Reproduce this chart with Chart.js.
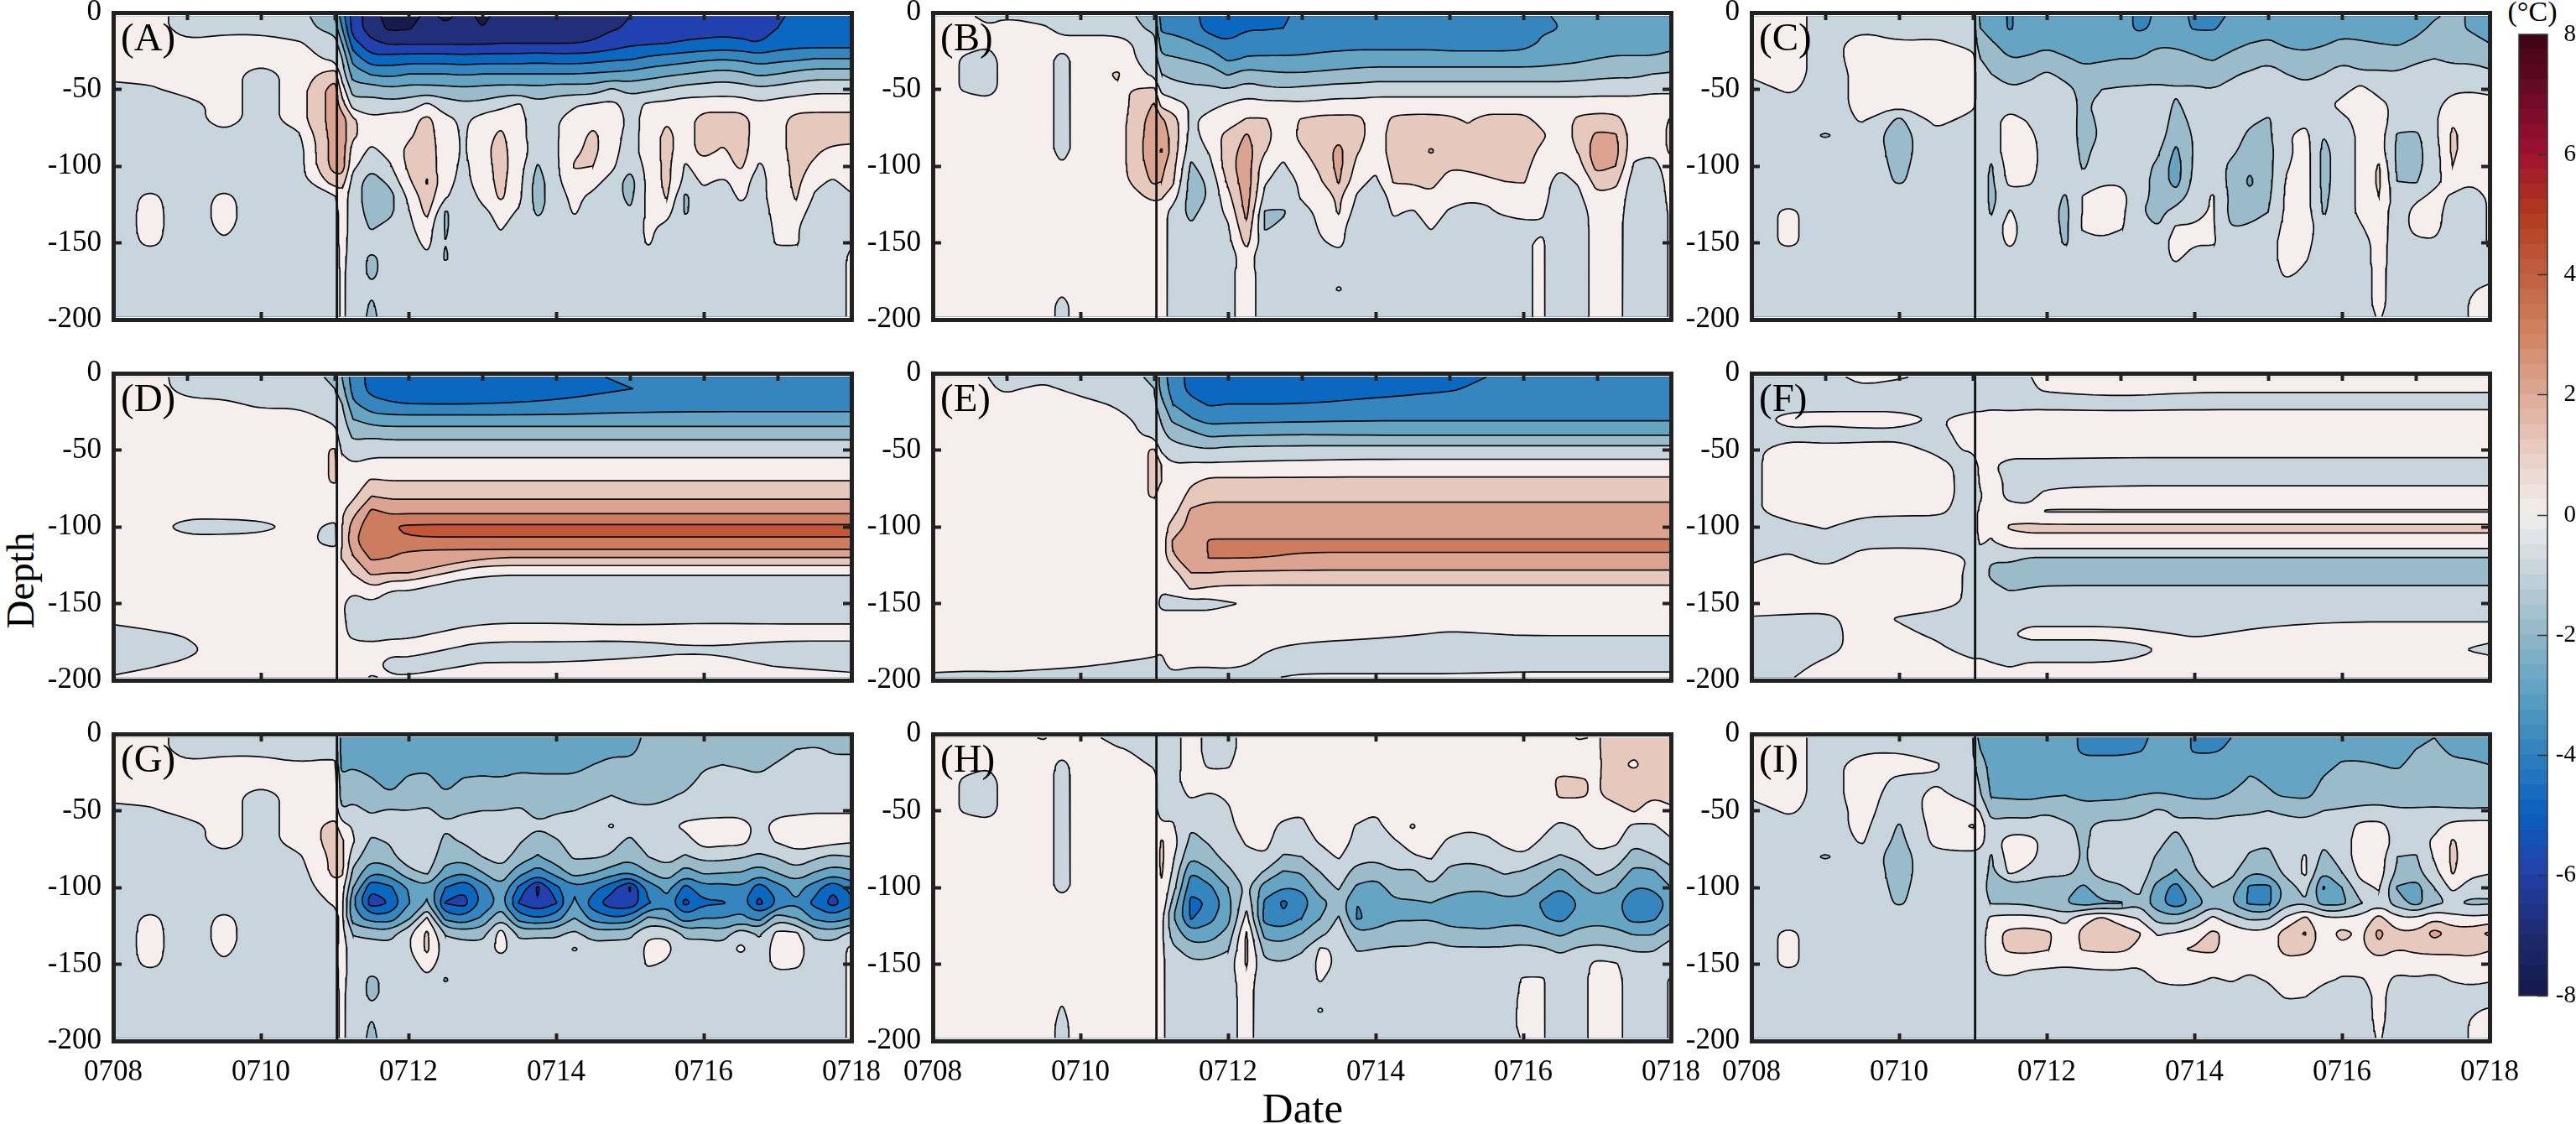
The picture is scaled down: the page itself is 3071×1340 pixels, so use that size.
<!DOCTYPE html>
<html><head><meta charset="utf-8">
<script src="https://cdn.jsdelivr.net/npm/chart.js@4"></script>
<style>
html,body{margin:0;background:#fff;width:3071px;height:1340px;overflow:hidden;font-family:"Liberation Serif",serif;color:#000}
canvas{position:absolute}
.t{position:absolute;white-space:nowrap;transform:translate(-50%,-50%)}
</style></head><body>
<div class="t" style="left:1553px;top:1321px;font-size:51px">Date</div>
<div class="t" style="left:24px;top:692px;font-size:47px;transform:translate(-50%,-50%) rotate(-90deg)">Depth</div>
<div class="t" style="left:3019px;top:14px;font-size:34px">(°C)</div>
<script>
const depths=[-2.5,-10,-20,-30,-40,-50,-60,-70,-80,-90,-100,-110,-120,-130,-140,-150,-160,-170,-180,-190,-198];
const dateTicks=['0708','0710','0712','0714','0716','0718'];
const depthTicks=[0,-50,-100,-150,-200];
const levels=[-7,-6,-5,-4,-3,-2,-1,0,1,2,3,4,5,6,7];
const bandColors={'-8':'#151b4d','-7':'#212f7a','-6':'#2241b0','-5':'#0a68c0','-4':'#3585be','-3':'#65a4c3','-2':'#9abbc9','-1':'#c9d5dd','0':'#f5eeec','1':'#e6c8bd','2':'#dba390','3':'#cd7c5f','4':'#c45535','5':'#b03a20','6':'#9e0f2c','7':'#6a0822'};
const cbarStops=['#14194a','#1d2a6e','#2340a8','#0a5fbe','#2f80bd','#5ca0c2','#92b8c8','#c3d2da','#f2efed','#e9cfc5','#dda996','#d0835f','#c0603f','#b13a1e','#a01030','#6a0a28','#3c0314'];
const fineDays=[3.1,3.25,3.5,3.75,4,4.25,4.5,4.75,5,5.25,5.5,5.75,6,6.25,6.5,6.75,7,7.25,7.5,7.75,8,8.25,8.5,8.75,9,9.25,9.5,9.75,10];
const stormDay=3.03;

// Every inner list is one time step, top to bottom; a short list repeats its last value down to -200.
const daysAG=[0,.5,1,1.5,2,2.5,3,...fineDays];
const preAG=[
[.5,.5,.5,.5,.5,-.5],
[.5,.5,.5,.5,.5,-.2,-.5,-.5,-.5,-.5,-.5,-.5,.2,.3,.3,.2,-.5],
[-.5,-.5,.2,.5,.5,.5,-.5],
[-.5,-.4,.5,.5,.5,.5,.5,.5,-.3,-.5,-.5,-.5,.2,.3,.2,-.1,-.5],
[-.5,-.4,.5,.5,-.5],
[-.5,-.5,.1,.5,.5,.5,.5,.5,-.2,-.5]];
const panelA=[...preAG,
[-2,-1.5,-.5,-.3,1.5,2.5,2.5,2.5,2.5,2.5,2.5,1.5,-.1,-.5],
[-3.5,-3,-2,-1,-.5,.5,1.5,2.5,2.5,2.5,2.5,1.5,.5,.5,.5,.4,.3,.2],
[-5.5,-5.5,-4.6,-3.4,-2.5,-1.5,-.5,1.2,1.2,.5,.2,-.4,-.5],
[-6.5,-6.5,-5.8,-4.7,-3.1,-1.5,-.5,.2,.4,-.2,-.7,-1.6,-1.6,-1.4,-1.1,-.5,-1.2,-1.2,-.8,-1.1,-1.2],
[-7.5,-7.2,-6.1,-4.6,-3.3,-1.8,-.6,.5,.3,.3,-.1,-.7,-1.4,-1.2,-.7,-.5,-.6,-.6,-.5],
[-7.5,-7.1,-6.1,-4.5,-3,-1.6,-.5,.6,.8,1.3,1.2,.8,.2,-.1,-.2,-.5],
[-6.7,-6.6,-6.1,-4.5,-3,-1.6,.2,1.3,1.5,1.6,1.6,2.1,1.6,1.3,.5,.3,-.2,-.5],
[-7.2,-6.8,-6.1,-4.5,-3,-1.7,-.5,.3,.3,.4,.4,.3,.1,-1.1,-1.1,-1,-1.1,-.5],
[-6.7,-6.6,-6.1,-4.6,-3.1,-1.8,-.8,-.2,-.1,-.1,-.2,-.3,-.5],
[-7.2,-7,-6.1,-4.5,-3,-1.7,-.7,.5,.6,.7,.5,.5,.2,-.2,-.5],
[-6.7,-6.6,-6,-4.5,-3,-1.6,-.3,.7,1.2,1.4,1.4,1.3,1.2,.3,.1,-.4,-.5],
[-6.7,-6.6,-6,-4.5,-3,-1.6,.1,.3,.3,.3,.4,.3,.2,-.1,-.5],
[-6.7,-6.6,-6,-4.4,-3,-1.7,-.7,-.5,-.5,-.3,-1.1,-1.5,-1.5,-1.2,-.5],
[-6.7,-6.6,-6,-4.5,-3,-1.5,-.4,-.1,-.1,-.1,-.2,-.2,-.3,-.5],
[-6.6,-6.5,-6,-4.5,-3,-1.5,-.1,.5,.6,.8,1.1,.6,.2,.1,-.5],
[-6.5,-6.4,-5.9,-4.4,-2.9,-1.5,.1,.7,1.2,1.3,1,.3,-.2,-.5],
[-6.2,-6.1,-5.6,-4.2,-2.8,-.9,.3,.8,.5,.3,.2,-.3,-.5],
[-6,-5.9,-5.2,-4.1,-2.7,-1.3,-.4,-.3,-.4,-.4,-.7,-1.5,-1.3,-.9,-.5],
[-5.6,-6,-5.1,-3.8,-2.4,-1.2,.2,.3,.4,.5,.3,.3,.3,.2,.2,.1,-.5],
[-5.5,-5.4,-5,-3.6,-2.2,-.9,.3,.9,1.3,1.3,1.3,1.3,1.1,.4,-.3,-.5],
[-5.5,-5.4,-4.9,-3.4,-2,-.6,.5,.5,.5,.4,-.1,-.3,-1.2,-1.1,-.5],
[-5.5,-5.4,-4.8,-3.2,-1.8,-.5,.5,1.5,1.5,1.5,.4,.1,-.2,-.5],
[-5.5,-5.4,-4.7,-3.1,-1.6,-.4,.5,1.5,1.5,.8,.5,-.1,-.3,-.5],
[-5.5,-5.4,-4.8,-3.2,-1.8,-.5,.5,1.5,1.5,1.5,1.2,.2,.1,-.2,-.5],
[-5.5,-5.4,-5,-3.5,-2.2,-.8,.2,.5,.4,.3,-.1,-.2,-.2,-.4,-.5],
[-5.2,-5,-4.6,-3.3,-2,-.6,.4,.6,.6,.5,.3,.3,.3,.3,.2,.1,-.5],
[-4.7,-4.5,-4.4,-3.2,-1.7,-.4,.5,1.4,1.5,1.5,1.4,1.3,1.1,.6,.1,.1,-.5],
[-4.5,-4.5,-4.4,-3,-1.5,-.2,.5,1.5,1.5,1.2,.8,.2,-.1,-.5],
[-4.5,-4.5,-4.4,-3,-1.5,-.2,.5,1.5,1.6,.7,.5,-.1,-.5],
[-4.5,-4.5,-4.4,-3,-1.5,-.2,.5,1.5,1.5,.6,.4,.3,-.1,-.5,-.5,-.1,.2]];
const panelG=[...preAG,
[-.3,-.3,.2,.5,.5,.6,1.3,1.3,1.3,1.3,.6,.1,-.3],
[-2.5,-2.5,-2.4,-1.7,-1.6,-.9,.4,1.2,1.2,1.2,.4,.2,.2,.3,.4,.4,.3,.2],
[-2.5,-2.5,-2.1,-1.6,-1.2,-.8,-.1,.1,-.6,-1.2,-2,-3,-2.6,-1.1,-.5],
[-2.5,-2.5,-2.5,-1.9,-1.5,-1.1,-.6,-1.2,-1.6,-2.9,-4.8,-5.6,-3.5,-1.3,-.5,-.5,-1.2,-1.2,-.8,-1.1,-1.2],
[-2.6,-2.6,-2.6,-2.5,-1.9,-.9,-.5,-.9,-1.3,-2.5,-4.2,-5,-3.5,-1.5,-.5,-.5,-.7,-.7,-.5],
[-2.6,-2.6,-2.4,-1.8,-1.4,-1,-.5,-.4,-.4,-1.3,-2.9,-3.1,-2.2,-.2,-.1,-.5],
[-2.6,-2.6,-2.3,-1.7,-1.3,-.9,-.5,-.4,-.4,-.8,-2.2,-1.9,.1,1.2,1.2,.5,-.2,-.5],
[-2.6,-2.6,-2.6,-2.4,-1.9,-1.2,-.9,-1.2,-1.6,-2.4,-4,-5.1,-3.3,-1.1,-.5,-.5,-1.1,-.5],
[-2.6,-2.6,-2.5,-1.9,-1.5,-1.1,-.6,-.9,-1.6,-2.9,-4.8,-5.4,-3.8,-1.4,-.5],
[-2.6,-2.6,-2.5,-1.8,-1.4,-1,-.5,-.6,-1,-2,-3.5,-3.8,-2.8,-1.4,-.5],
[-2.6,-2.6,-2.5,-1.9,-1.5,-1,-.5,-.5,-.6,-1.3,-2.2,-2.7,-1.1,.4,.3,-.5],
[-2.6,-2.6,-2.3,-1.7,-1.3,-.9,-.6,-.9,-1.4,-2.6,-4.2,-5.1,-3.5,-1.3,-.5],
[-2.6,-2.6,-2.3,-1.8,-1.5,-1.2,-.9,-1.55,-2.1,-3.5,-6.2,-5.9,-4,-1.2,-.5],
[-2.6,-2.6,-2.3,-1.8,-1.5,-1.1,-.6,-1.1,-1.4,-2.6,-4.2,-5.1,-3.5,-1.2,-.5],
[-2.6,-2.6,-2.3,-1.8,-1.4,-1,-.6,-.6,-.9,-1.5,-3.2,-2.8,-2,-.8,.1,-.5],
[-2.6,-2.5,-2,-1.6,-1.3,-.7,-.4,-.5,-.9,-1.9,-3.6,-4.6,-3.4,-1.5,-.5],
[-2.5,-2.3,-1.7,-1.3,-1,-.5,.1,-.7,-1.1,-2.5,-4.6,-5.6,-3.9,-1.4,-.5],
[-2.3,-2.2,-1.8,-1.5,-1.2,-.8,-.6,-1.2,-1.7,-3,-6.1,-5.8,-3.6,-1.3,-.5],
[-1.8,-1.7,-1.6,-1.4,-1.2,-.9,-.5,-.5,-1,-2,-3.6,-4.1,-1.8,-.1,.2,.1,-.5],
[-1.7,-1.6,-1.5,-1.4,-1.1,-.8,-.4,-.5,-.7,-1.3,-2.6,-3.4,-2.2,-.1,.2,-.1,-.5],
[-1.7,-1.6,-1.5,-1.3,-.9,-.6,.3,-.5,-1.1,-2.5,-4.3,-5.3,-3.6,-1.3,-.5],
[-1.6,-1.5,-1.1,-.8,-.6,-.5,.5,.5,-.7,-1.8,-3.3,-4.2,-3,-1.3,-.5],
[-1.6,-1.5,-1,-.7,-.5,-.4,.5,.3,-.7,-1.9,-3.4,-4.1,-3,-1.6,-.5],
[-1.6,-1.5,-1.1,-.7,-.6,-.4,.5,.3,-.9,-2,-3.1,-3.6,-2.7,-.4,.2,-.5],
[-1.6,-1.5,-1.3,-.8,-.6,-.4,-.3,-.4,-1.2,-2.6,-4.5,-5.3,-3.4,-1.2,-.5],
[-1.6,-1.4,-.9,-.6,-.5,-.3,.4,.1,-.9,-1.9,-3.4,-4,-1.3,.3,.4,.3,-.5],
[-1.5,-1,-.7,-.5,-.5,-.2,.5,.5,-.4,-1.3,-2.6,-3.1,-2,.2,.5,.2,-.5],
[-1.4,-.9,-.6,-.5,-.5,-.1,.5,.5,-.8,-2,-3.5,-4.3,-3.2,-1.3,-.5],
[-1.4,-1.1,-.8,-.5,-.5,-.1,.5,.3,-1.2,-2.5,-4.8,-5.4,-3.6,-1.5,-.5],
[-1.4,-1.1,-.8,-.5,-.5,-.1,.5,.1,-1,-2.2,-3.6,-4.3,-3,-.8,.2,.2,.2]];

const daysBH=[0,.5,.75,1,1.5,1.75,2,2.5,3,...fineDays];
const panelB=[
[.5],
[.2,.5,.3,-.2,-.2,-.2,.5],
[-.5,.2,.2,-.5,-.5,-.5,.5],
[-.1,.5],
[-.5,.2,.5],
[-.5,-.5,.5,-.4,-.4,-.4,-.4,-.4,-.4,-.4,.1,.5,.5,.5,.5,.5,.5,.5,.2,-.3,-.3],
[-.5,-.5,.5],
[-.5,-.5,.5,.5,1.1,.9,.5],
[-1.5,-1.2,-.7,-.5,-.3,1.2,2.1,2.5,2.6,2.7,2.5,2.2,1.2,.5],
[-3.5,-3.2,-2.5,-1.8,-1,-.3,.7,2.2,2.5,3.1,2.3,2,1.1,.5],
[-3.5,-3.3,-2.6,-1.9,-1.3,-.5,.4,1.5,1.7,1.6,1.4,1.2,.5,-.4,-.5],
[-3.6,-3.5,-2.9,-2.1,-1.4,-.8,-.1,-.2,-.4,-.6,-1.2,-1.5,-1.5,-1.3,-.9,-.5],
[-4.5,-4.4,-3.4,-2.3,-1.6,-.8,-.3,.4,.5,.1,-.3,-.8,-.9,-.5],
[-4.6,-4.5,-3.9,-3.2,-2.1,-1,.1,.5,1.3,1.5,1.6,1.2,.7,.2,-.1,-.3],
[-4.4,-4.1,-3.5,-2.9,-1.6,-.5,.4,1.1,2.1,2.5,2.6,2.6,2.5,2.3,1.8,1.3,.3,.5],
[-4.3,-4.1,-3.4,-2.9,-1.8,-.8,.3,1.1,1.4,1.1,.3,.1,-.3,-1.1,-1.1,-.6,-.5],
[-4.1,-4,-3.4,-2.9,-1.9,-.9,.3,.5,.4,.2,-.1,-.5,-.6,-1.1,-.8,-.5],
[-3.8,-3.7,-3.3,-2.9,-1.9,-.8,.2,1.1,1.3,.9,.5,.2,.1,-.3,-.5],
[-3.6,-3.6,-3.3,-2.8,-1.8,-.7,.3,1.3,1.5,1.4,1.2,.9,.4,.2,.1,-.1,-.5],
[-3.5,-3.5,-3.3,-2.7,-1.7,-.6,.4,1.3,1.7,2.3,2.3,2.1,1.2,1.1,.3,.2,-.3,-.5,.1,-.5],
[-3.5,-3.5,-3.3,-2.6,-1.6,-.6,.4,1.3,1.4,1.1,.7,.3,-.1,-.5],
[-3.5,-3.5,-3.3,-2.6,-1.5,-.5,.5,.5,.5,.4,.2,-.2,-.5],
[-3.5,-3.5,-3.3,-2.6,-1.5,-.5,.5,1.2,1.4,1.5,1.3,1.1,.3,.1,-.2,-.5],
[-3.5,-3.5,-3.3,-2.6,-1.5,-.5,.5,1.3,1.4,1.5,1.3,1.1,.5,-.1,-.5],
[-3.5,-3.5,-3.3,-2.6,-1.5,-.5,.5,1.3,1.5,2.1,1.6,1.3,.8,.4,.1,-.5],
[-3.5,-3.5,-3.4,-2.6,-1.5,-.5,.5,1.2,1.4,1.5,1.1,.6,.3,-.1,-.5],
[-3.5,-3.5,-3.4,-2.6,-1.5,-.5,.5,.9,1.3,1.4,1.1,.8,.1,-.2,-.5],
[-3.5,-3.5,-3.4,-2.6,-1.5,-.5,.5,1.3,1.4,1.4,1.2,.9,.1,-.1,-.5],
[-3.5,-3.5,-3.4,-2.6,-1.5,-.5,.5,1.3,1.4,1.5,1.3,1,.3,.1,-.3,-.5],
[-3.5,-3.5,-3.3,-2.6,-1.5,-.5,.5,1.3,1.4,1.5,1.3,1.1,.3,.1,-.1,-.1],
[-3.1,-3.1,-2.9,-2.5,-1.5,-.5,.5,.7,1.2,.8,.5,.3,.3,.1,-.1,.1],
[-2.9,-3,-2.6,-2.3,-1.5,-.5,.5,.5,.4,.3,.1,-.3,-.5],
[-2.5,-2.5,-2.5,-2.2,-1.4,-.5,.5,1.2,1.4,1.1,.6,.1,-.2,-.5],
[-2.5,-2.5,-2.4,-2,-1.3,-.4,.5,1.4,2.2,2.7,2.4,1.4,.8,.5,.4],
[-2.5,-2.5,-2.4,-1.9,-1.2,-.4,.5,1.3,2.1,2.4,2,1.3,.6,.4,.3],
[-2.5,-2.5,-2.4,-1.9,-1.2,-.4,.5,.5,.4,.2,-.1,-.5],
[-2.5,-2.5,-2.4,-1.9,-1,-.2,.5,.5,.5,.2,-.4,-.5],
[-2.5,-2.5,-2.2,-1.8,-.9,-.2,.5,1.1,1.2,1.2,.6,.3,.2,.1]];
const panelH=[
[.5],
[.5,.5,.3,-.2,-.2,-.2,.5],
[.1,.5,.2,-.5,-.5,-.5,.5],
[.5],
[-.1,.5],
[.5,.5,-.3,-.4,-.4,-.4,-.4,-.4,-.4,-.4,-.4,.5,.5,.5,.5,.5,.5,.2,-.1,-.3],
[.5],
[-.4,.1,.5],
[-.3,-.3,-.1,.3,.3,.3,.3,.4,.5,.5,.6,.5,.4,.3],
[-.5,-.5,-.5,-.5,-.5,-.5,.2,1.1,1.2,1.1,.9,.8,.3,.2],
[-.4,-.4,-.4,-.3,-.3,-.2,.1,.5,.2,-.1,-.5,-1.3,-1.9,-1.4,-.8,-.5],
[.5,.5,.5,.5,.1,-.4,-.9,-1.3,-1.9,-3,-3.7,-4.3,-4.1,-2.7,-1.5,-.8,-.5],
[-.4,-.4,-.2,.5,-.1,-.3,-.5,-.9,-1.3,-2.2,-3.2,-3.9,-3.3,-2.5,-1.6,-.7,-.5],
[-.4,-.4,-.1,.3,.1,-.1,-.3,-.5,-.7,-1.2,-2,-2.4,-2.3,-1.7,-1.1,-.5,-.3],
[.5,.5,.5,.5,.5,.5,.5,.1,-.2,-.5,-.8,-.2,.3,1.1,1.2,1.1,.4,.3],
[.5,.5,.5,.5,.5,.5,.5,.3,-.1,-1.1,-2.5,-3.2,-3.4,-2.4,-1.4,-.8,-.5],
[.5,.5,.5,.5,.5,.5,-.3,-.6,-1.1,-2.1,-3,-4.2,-3.8,-2.5,-1.6,-.9,-.5],
[.5,.5,.5,.5,.5,.1,-.2,-.4,-1,-1.9,-2.9,-3.4,-3,-2,-1.2,-.5],
[.5,.5,.5,.5,.5,.5,.5,.1,-.4,-1,-1.4,-2.4,-2,-1.3,.1,.2,.1,-.5,.1,-.5],
[.5,.5,.5,.5,.5,.5,.5,.5,.1,-.6,-.9,-1.5,-.9,-.5,-.1,-.1,-.5],
[.5,.5,.5,.5,.5,.5,-.1,-.3,-.7,-1.3,-2.2,-3,-3.1,-1.8,-1.1,-.6,-.5],
[.5,.5,.5,.5,.5,.1,-.3,-.5,-.8,-1.5,-2.5,-2.8,-2.8,-1.6,-1,-.5],
[.5,.5,.5,.5,.5,.5,.5,-.1,-.4,-1.1,-1.5,-2.2,-2.1,-1.5,-.9,-.5],
[.5,.5,.5,.5,.5,.5,-.1,.4,-.1,-1.2,-1.6,-2.1,-2.1,-1.5,-.9,-.5],
[.5,.5,.5,.5,.5,.5,.5,.5,.1,-.5,-1.1,-2,-2.1,-1.2,-.8,-.5],
[.5,.5,.5,.5,.5,.5,.5,-.2,-.7,-1.2,-1.6,-2.4,-2.5,-1.6,-.9,-.5],
[.5,.5,.5,.5,.5,.5,.2,-.4,-.8,-1.3,-1.8,-2.6,-2.5,-1.7,-.9,-.5],
[.5,.5,.5,.5,.5,.5,.3,-.2,-.7,-1.2,-1.8,-2.6,-2.5,-1.8,-.9,-.5],
[.5,.5,.5,.5,.5,.5,.5,.2,-.3,-.9,-1.5,-2.3,-2.4,-1.6,-.9,-.5],
[.5,.5,.5,.5,.5,.5,.5,.4,-.1,-1.1,-1.7,-2.3,-2.4,-1.5,-.8,-.5,.1,.2,.3,.3,.1],
[.5,.5,.5,.5,.5,.5,.3,-.1,-.7,-1.5,-2.3,-3.1,-2.9,-1.8,-.9,-.5,.1],
[.5,.5,.5,1.2,1.1,.5,-.2,-.5,-1.1,-2.3,-3,-3.8,-3.3,-2.2,-1.2,-.6,-.5],
[1.1,.5,.5,1.1,1.1,.5,.1,-.3,-.8,-1.5,-2.2,-3,-2.6,-1.7,-.9,-.5],
[.9,.9,.9,.9,.9,.5,.5,.4,-.3,-.8,-1.6,-2.4,-2.4,-1.5,-.8,.3,.5],
[1.5,1.5,1.3,1.5,1.4,.6,.5,.2,-.5,-1.2,-2,-2.7,-2.6,-1.7,-.9,.1,.3],
[1.5,1.3,.8,1.5,1.5,1.1,-.2,-.8,-1.4,-2.3,-3,-3.8,-3.4,-2.1,-1.1,-.6,-.5],
[1.5,1.5,1.5,1.5,1.1,.5,-.1,-.5,-1.1,-2.2,-2.9,-3.7,-3.2,-2.1,-1.1,-.6,-.5],
[1.5,1.5,1.5,1.5,1.5,.7,.3,-.1,-.7,-1.2,-2,-2.7,-2.4,-1.2,-.7,-.5,.1]];

const panelC=[
[.5,.5,.5,.5,.2,-.5],
[.5,.5,.5,.5,.5,.2,-.5,-.5,-.5,-.5,-.5,-.5,-.5,.2,.2,.2,-.5],
[-.5,-.5,-.5,-.5,-.5,-.5,-.5,-.5,-1.1,-.5],
[-.5,-.2,.5,.5,.3,.3,.3,.1,-.5],
[-.5,-.5,.1,.1,.1,.1,.1,-1.2,-1.4,-1.3,-1.2,-1.1,-.5],
[-.5,-.5,.2,.3,.3,.3,.4,.3,-.3,-.5],
[-.5,-.5,-.3,.3,.4,.4,.2,-.3,-.5],
[-2.2,-2,-1.6,-1,-.7,-.5],
[-2.5,-2.4,-1.9,-1.5,-1,-.7,-.5,-.5,-.5,-.5,-1.1,-1.2,-1.2,-1.1,-.5],
[-3.1,-3.1,-2.4,-2,-1.4,-.9,-.5,.5,.5,.5,.5,.3,-.5,.1,.4,.2,-.5],
[-2.5,-2.5,-2.4,-1.9,-1.2,-.8,-.5,-.1,.3,.5,.5,.2,-.5],
[-2.5,-2.5,-2.2,-1.6,-.9,-.6,-.5],
[-2.6,-2.6,-2.5,-1.9,-1.2,-.8,-.6,-.5,-.5,-.5,-.5,-.5,-1.1,-1.3,-1.2,-1.1,-.5],
[-2.6,-2.6,-2.5,-2.2,-1.7,-1.2,-1.2,-1.3,-1.3,-1.2,-1.1,-.7,.1,.1,.2,-.5],
[-2.6,-2.6,-2.5,-2.1,-1.6,-1,-.6,-.8,-.9,-.7,-.5,-.1,.3,.5,.5,-.3,-.5],
[-2.6,-2.6,-2.4,-2,-1.5,-.9,-.5,-.5,-.5,-.5,-.5,-.1,.3,.3,.1,-.5],
[-3.2,-3.2,-2.4,-2,-1.3,-.9,-.6,-.5,-.5,-.5,-.5,-.5,-.5,-.9,-.5],
[-2.9,-2.8,-2.1,-1.7,-1.2,-.9,-.6,-.5,-.5,-.8,-1.2,-1.4,-1.4,-1.3,-1,-.5],
[-2.6,-2.6,-2.1,-1.8,-1.4,-.9,-1.1,-1.3,-1.6,-2.2,-2.5,-2.4,-1.6,-.6,.1,.4,.2,-.5],
[-3.2,-3.1,-2.3,-1.9,-1.3,-.9,-.7,-.8,-.9,-.9,-.8,-.7,-.5,-.3,.1,.1,-.5],
[-3.2,-3.1,-2.5,-2.1,-1.4,-1,-.5,-.5,-.5,-.5,-.5,-.5,.1,.1,.1,.1,-.5],
[-2.9,-2.7,-2.3,-1.7,-1.1,-.8,-.5,-.5,-.5,-.8,-1.2,-1.2,-1.2,-1.3,-1,-.5],
[-2.6,-2.6,-2,-1.4,-.9,-.6,-.5,-.8,-1.2,-1.4,-1.8,-2.2,-1.7,-1.3,-.9,-.5],
[-2.6,-2.5,-1.8,-1.1,-.8,-.6,-.6,-1.1,-1.2,-1.3,-1.3,-1.3,-1.2,-1,-.6,-.5],
[-2.5,-2.5,-2.2,-1.5,-1,-.8,-.5,-.4,-.1,-.3,-.1,.1,.2,.2,.3,.5,.5,.2,-.5],
[-2.5,-2.5,-2.3,-1.7,-1.1,-.9,-.5,-.2,.3,.5,.5,.5,.5,.5,.5,.3,.1,-.2,-.5],
[-2.5,-2.5,-2.1,-1.5,-1,-.7,-.5,-.5,-1,-1.3,-1.3,-1.3,-1.2,-1.1,-.5],
[-2.4,-2.4,-1.8,-1.1,-.8,-.5,.5,-.4,-.5],
[-2.4,-2.4,-1.9,-1.3,-.9,.4,.5,.5,.2,.2,.2,.2,.2,.2,-.1,-.5],
[-2.4,-2.4,-2,-1.3,-.9,-.5,.5,.5,.5,.5,1.1,1.2,1,.5,.5,.4,.4,.3,.3,.3,.1],
[-2.3,-2.2,-2.1,-1.5,-.9,-.5,-.5,-.5,-1.1,-1.2,-1.2,-1,-.5],
[-2.4,-2.3,-1.8,-1.1,-.8,-.5,-.5,-.5,-1.2,-1.3,-1.3,-1.1,-.2,.3,.3,-.2,-.5],
[-2.1,-1.8,-1.4,-1,-.8,-.5,-.3,-.2,-.3,-.5,-.5,-.2,.2,.4,.3,-.1,-.5],
[-1.8,-1.6,-1.4,-1.1,-.8,-.2,.5,.9,1.2,1.2,1,.3,-.1,-.5],
[-2.1,-2.2,-1.5,-1.1,-.8,-.1,.5,.5,.5,.4,.3,.1,-.4,-.5,-.5,-.5,-.5,-.5,-.1,.1,.1],
[-2.2,-2.3,-2,-1.2,-.9,-.3,.5,.4,.3,.2,.2,.1,.1,.1,.1,.1,-.1,-.4,.2,.4,.4]];
const daysCI=[0,.5,1,1.5,2,2.5,3,...fineDays];
const panelI=[
[.5,.5,.5,.5,.2,-.5],
[.5,.5,.5,.5,.5,.2,-.5,-.5,-.5,-.5,-.5,-.5,-.5,.2,.2,.2,-.5],
[-.5,-.5,-.5,-.5,-.5,-.5,-.5,-.5,-1.1,-.5],
[-.5,-.2,.5,.5,.5,.3,.3,.1,-.5],
[-.5,-.1,.4,-.2,-.5,-.5,-1.1,-1.3,-1.4,-1.3,-1.2,-1.1,-.5],
[-.5,-.5,.1,-.1,.3,.3,.4,.3,-.3,-.5],
[-1,-1,-.8,-.5,-.5,.3,1.1,.4,-.2,-.5],
[-2.5,-2,-1.5,-1.2,-.9,-.1,.5,.3,-.4,-.5],
[-2.6,-2.5,-2.4,-2.3,-2.1,-1.4,-.7,-.5,-1.1,-1.2,-1.5,-1.1,.2,.6,.6,.3,-.2,-.5],
[-2.6,-2.6,-2.6,-2.6,-2.2,-1.3,-.6,.5,.5,.2,-1.5,-1.1,.3,1.3,1.2,.4,-.1,-.5],
[-2.6,-2.6,-2.6,-2.6,-2.3,-1.3,-.7,.5,.4,-.3,-1.5,-1.2,.3,1.4,1.3,.3,-.5],
[-2.6,-2.6,-2.6,-2.5,-2.1,-1.1,-.6,-.4,-.5,-.7,-1.7,-1.7,.1,1.2,1.1,.2,-.5],
[-2.6,-2.6,-2.6,-2.6,-2,-1.4,-.8,-.5,-.5,-.8,-1.6,-2,-.4,.5,.5,.1,-.5],
[-3.2,-3.2,-2.7,-2.6,-2.2,-1.7,-1.2,-1.2,-1.1,-1.2,-2.2,-2.6,.8,1.2,1.1,.2,-.5],
[-3.3,-3.2,-2.7,-2.6,-2.2,-1.6,-.7,-.5,-.5,-.7,-1.3,-2.1,1.1,2,1.2,.3,-.5],
[-3.3,-3.2,-2.7,-2.5,-2.2,-1.5,-.7,-.5,-.5,-.6,-1.1,-2.1,.6,1.5,1.2,.3,-.5],
[-3.2,-3.1,-2.6,-2.4,-2,-1.3,-.6,-.5,-.5,-.5,-.7,-1.2,-.1,1.1,.8,.1,-.5],
[-2.8,-2.7,-2.6,-2.4,-1.9,-.9,-.6,-.7,-1.1,-1.4,-2.4,-2.7,-1.4,-.1,.5,.4,.1,-.5],
[-2.6,-2.6,-2.6,-2.6,-2,-1.1,-.9,-1.4,-1.7,-2.1,-3.4,-3.6,-1.7,.1,.9,.5,.2,-.3,-.5],
[-3.1,-3.1,-2.7,-2.6,-2.2,-1.3,-.6,-.5,-.9,-1.1,-1.9,-2.7,-.9,.5,1.1,.5,.2,-.5],
[-3.1,-3.1,-2.7,-2.6,-2.2,-1.4,-.7,-.5,-.5,-.6,-1,-1.4,.2,1.2,1.2,.5,-.1,-.5],
[-3,-2.9,-2.5,-2.4,-1.9,-1.2,-.6,-.5,-.5,-.7,-1.4,-2,-.6,.7,.5,.4,.1,-.5],
[-2.6,-2.6,-2.2,-1.9,-1.7,-1.1,-.7,-.8,-1.1,-1.9,-3.2,-3.2,-1.2,.3,.4,.3,-.2,-.5],
[-2.6,-2.6,-2.5,-2.1,-1.9,-1,-.7,-.9,-1.2,-1.7,-3.3,-3.3,-1.1,.4,.5,.3,.1,-.4,-.5],
[-2.6,-2.6,-2.6,-2.6,-2.1,-1.2,-.6,-.5,-.5,-.7,-1.5,-1.3,.2,1.5,1.4,.6,.4,.2,-.5],
[-2.6,-2.6,-2.6,-2.6,-2.2,-1.3,-.7,-.5,.1,.2,-.6,-1.1,1.2,2.1,1.3,.5,.3,.1,-.5],
[-2.4,-2.4,-2.3,-1.9,-1.7,-1,-.6,-.8,-1.3,-2,-3.1,-2.4,.2,.4,.6,.3,.2,-.5],
[-2.4,-2.3,-1.9,-1.7,-1.5,-.9,-.6,-.5,-.6,-1,-2,-2.3,.1,1.4,.7,.3,-.1,-.5],
[-2.4,-2.3,-1.9,-1.7,-1.4,-.8,.3,.5,.6,.3,-.3,-1.1,.3,.8,.7,.5,-.1,-.5],
[-2.5,-2.3,-2,-1.8,-1.3,-.8,.4,.5,.5,.5,.1,-.3,1.3,2.3,1.7,.5,.3,.3,.3,.2,.1],
[-2.6,-2.4,-2.1,-1.8,-1.4,-.9,-.5,-.3,-1,-1.2,-2.1,-1.5,.2,1.2,1,.4,-.2,-.5],
[-2.3,-2,-1.8,-1.6,-1.4,-.9,-.6,-.5,-1.1,-1.3,-2.5,-2.4,.1,1.2,1.2,.5,-.1,-.5],
[-2,-1.9,-1.7,-1.5,-1.3,-.9,-.3,.2,.1,-.3,-1,-1.3,.9,2.4,1.3,.5,-.3,-.5],
[-2.3,-2.1,-1.9,-1.6,-1.4,-.9,.4,1.1,1.2,1.1,.3,-.8,.3,1.6,1.3,.5,.1,-.5],
[-2.4,-2.2,-1.9,-1.7,-1.5,-.9,.5,.5,.5,.3,-.5,-1.2,.2,1.6,1.5,.5,.3,-.5,-.1,.1,.1],
[-2.6,-2.4,-2,-1.7,-1.4,-.9,.5,.4,.3,.1,-.7,-1.1,.3,2.2,1.1,.4,.1,-.5,.1,.3,.4]];

const daysD=[0,.5,1,1.5,2,2.5,3,3.1,3.25,3.5,3.75,4,5,6,7,8,9,10];
const panelD=[
[.5,.5,.5,.5,.5,.5,.5,.5,.5,.5,.5,.5,.5,.5,.5,.5,.3,-.5,-.5,-.5,.1],
[.5,.5,.5,.5,.5,.5,.5,.5,.5,.5,.5,.5,.5,.5,.5,.5,.5,-.2,-.5,-.1,.3],
[-.5,-.4,.3,.5,.5,.5,.5,.5,.5,.5,-.5,.5,.5,.5,.5,.5,.5,.1,-.3,.2,.5],
[-.5,-.5,.2,.5,.5,.5,.5,.5,.5,.5,-.5,.5],
[-.5,-.5,-.2,.5,.5,.5,.5,.5,.5,.5,-.3,.5],
[-.5,-.5,-.2,.5,.5,.5,.5,.5,.5,.5,.3,.3,.5],
[-1.2,-1,-.6,-.2,.3,1.1,1.1,1.1,.6,.4,-.2,-.3,.5],
[-2,-1.7,-1,-.6,-.4,-.2,.5,.6,.8,.9,1,1,1.1,.4,.2,.1,.2,.3,.5],
[-3.5,-3.4,-2.8,-2,-1.2,-.6,.1,.6,.8,1.6,2.5,2.8,1.9,1.1,.2,-.4,-.5,-.3,.5,.3,.5],
[-4.3,-4.3,-3.7,-2.5,-1.2,-.3,.3,1.1,2,3.2,3.7,3.7,3.2,2.2,.9,-.1,-.5,-.5,.5,.5,-.1,.5],
[-4.5,-4.5,-3.9,-2.6,-1.3,-.4,.4,1,1.8,2.8,3.9,3.8,3,2,.1,-.5,-.5,-.2,.4,-.5,.2,.5],
[-4.5,-4.5,-4,-2.6,-1.3,-.4,.4,1,1.8,2.8,4.2,3.9,2.2,2,.1,-.5,-.5,-.2,.5,-.5,.1,.5],
[-4.5,-4.5,-4,-2.6,-1.3,-.4,.4,1,1.8,2.8,4.2,3.9,2,.1,-.5,-.5,-.2,.5,-.5,.1,.5],
[-4.4,-4.3,-3.9,-2.6,-1.3,-.4,.4,1,1.8,2.8,4.2,3.9,2,.1,-.5,-.5,-.2,.5,-.5,.1,.5],
[-3.8,-4.02,-3.5,-2.6,-1.3,-.4,.4,1,1.8,2.8,4.2,3.9,2,.1,-.5,-.5,-.2,.3,-.4,.3,.5],
[-3.6,-3.6,-3.4,-2.6,-1.3,-.4,.4,1,1.8,2.8,4.2,3.9,2,.1,-.5,-.5,-.2,.5,-.1,.5,.5],
[-3.6,-3.6,-3.4,-2.6,-1.3,-.4,.4,1,1.8,2.8,4.2,3.9,2,.1,-.5,-.5,-.2,.4,-.5,-.1,.5],
[-3.6,-3.6,-3.4,-2.6,-1.3,-.4,.4,1,1.8,2.8,4.2,3.9,2,.1,-.5,-.5,-.2,.4,-.5,-.3,.2]];

const daysEF=[0,.5,1,1.5,2,2.5,3,3.1,3.25,3.5,3.75,4,5,6,7,8,9,10];
const panelE=[
[.5,.5,.5,.5,.5,.5,.5,.5,.5,.5,.5,.5,.5,.5,.5,.5,.5,.5,.5,.5,-.3],
[.5,.5,.5,.5,.5,.5,.5,.5,.5,.5,.5,.5,.5,.5,.5,.5,.5,.5,.5,.5,-.5],
[-.5,-.2,.5,.5,.5,.5,.5,.5,.5,.5,.5,.5,.5,.5,.5,.5,.5,.5,.5,.5,-.4],
[-.4,.3,.5,.5,.5,.5,.5,.5,.5,.5,.5,.5,.5,.5,.5,.5,.5,.5,.5,.3,-.5],
[-.5,-.5,.5,.5,.5,.5,.5,.5,.5,.5,.5,.5,.5,.5,.5,.5,.5,.5,.5,.1,-.5],
[-.5,-.5,-.2,.4,.5,.5,.5,.5,.5,.5,.5,.5,.5,.5,.5,.5,.5,.5,.5,-.1,-.5],
[-1.2,-1,-.8,-.6,-.3,1.1,1.1,1.1,1.1,.4,.5,.5,.5,.5,.5,.5,.5,.5,.5,-.5],
[-2.5,-2.4,-1.7,-1.1,-.8,-.2,1,1,.5,.5,.4,.4,.4,.4,.2,-.4,.5,.5,.1,-.3,-.5],
[-3.5,-3.4,-3,-2.2,-1.3,-.6,.1,.5,.2,.6,1.5,2.1,1.9,.6,.4,-.4,.5,.5,.5,.4,-.4],
[-4.3,-4.3,-3.7,-2.9,-1.7,-.8,.2,.8,1.4,2.2,2.3,2.4,2.4,2,1.1,-.4,.5,.5,.5,.1,-.4],
[-4.5,-4.5,-4.1,-3.4,-2.2,-.9,.2,1.2,1.8,2.3,2.6,3.1,3.05,2,.9,-.4,.5,.5,.5,.1,-.4],
[-4.5,-4.5,-4,-3.3,-2.1,-.7,.2,1.2,1.8,2.3,2.6,3.1,3.05,1.9,.8,-.1,.5,.5,.5,.2,-.5],
[-4.5,-4.5,-4,-3.2,-2,-.6,.3,1.2,1.8,2.3,2.6,3.1,2.95,1.8,.8,.6,.4,.5,-.4,-.5,.2],
[-4.5,-4.3,-3.8,-3.1,-2.05,-.6,.4,1.2,1.8,2.3,2.6,3.1,2.95,1.8,.8,.6,.4,.2,-.5,-.5,.2],
[-4.5,-4.1,-3.6,-3.1,-2.05,-.6,.4,1.2,1.8,2.3,2.6,3.1,2.95,1.8,.8,.6,.4,-.1,-.5,-.5,.2],
[-3.5,-3.5,-3.4,-3.1,-2.05,-.6,.4,1.2,1.8,2.3,2.6,3.1,2.95,1.8,.8,.6,.4,.05,-.5,-.4,.3],
[-3.5,-3.5,-3.4,-3.1,-2.05,-.6,.4,1.2,1.8,2.3,2.6,3.1,2.95,1.8,.8,.6,.4,.05,-.5,-.4,.3],
[-3.5,-3.5,-3.4,-3.1,-2.05,-.6,.4,1.2,1.8,2.3,2.6,3.1,2.95,1.8,.8,.6,.4,.05,-.5,-.4,.3]];

const panelF=[
[-.5,-.5,-.5,-.5,-.5,-.2,-.2,-.2,-.2,-.2,-.5,-.5,-.2,.3,.5,.5,-.1,-.5,-.5,-.5,-.3],
[-.5,-.5,-.5,.4,-.3,.4,.5,.5,.5,.5,-.3,-.5,.2,.5,.5,.5,-.2,-.5,-.5,-.5,-.1],
[-.5,-.5,-.3,.3,-.4,.3,.5,.3,.5,.5,.1,-.5,-.5,.4,.5,.5,-.3,-.5,-.4,.3,.5],
[.4,-.2,-.4,.4,-.3,.3,.5,.5,.5,.3,-.5,-.3,.4,.5,.5,.5,.5,.5,.5,.5,.5],
[.1,-.4,-.4,.4,-.3,.4,.5,.5,.5,.2,-.5,-.3,.5,.5,.5,.5,-.1,.3,.5,.5,.5],
[-.3,-.3,-.4,-.1,-.3,-.2,.4,.5,.5,.2,-.5,-.4,.5,.5,.5,.4,-.4,-.2,.3,.5,.5],
[-.5,-.5,-.4,.4,.4,.1,-.5,-.5,-.5,-.4,-.5,-.5,-.1,-.2,-.2,-.2,-.5,-.5,-.5,.3,.5],
[-.5,-.5,-.5,.5,.5,.5,.2,.1,-.1,.2,.4,.1,-.4,-.5,-.5,-.5,-.5,-.5,-.5,.4,.5],
[-.5,-.5,-.3,.5,.5,.5,.1,.5,.5,.5,.2,-.1,-.9,-1.2,-.8,-.5,-.5,-.5,-.5,.1,.5],
[-.4,-.5,-.4,.5,.5,.4,-.3,-.3,-.3,.5,1.1,.6,-.9,-1.2,-1.1,-.6,-.5,-.1,-.5,-.1,.4],
[-.1,-.1,-.3,.5,.5,.4,-.3,-.3,-.3,.3,1.2,.7,-1,-1.5,-1,-.6,-.3,.3,-.5,.1,.5],
[.5,.1,-.3,.5,.5,.4,-.3,-.3,.3,-.05,1.2,.7,-1,-1.5,-.9,-.6,-.3,.3,-.5,.1,.5],
[.5,.4,-.4,.5,.5,.4,-.4,-.2,.4,-.05,1.2,.7,-1,-1.5,-.9,-.6,-.3,.3,-.5,.1,.5],
[.5,.1,-.3,.5,.5,.4,-.4,-.2,.4,-.05,1.2,.7,-1,-1.5,-.9,-.6,-.5,-.1,.4,.5,.5],
[.5,.1,-.3,.5,.5,.4,-.4,-.2,.4,-.05,1.2,.7,-1,-1.5,-.9,-.6,-.2,.2,.5,.5,.5],
[.5,.1,-.3,.5,.5,.4,-.4,-.2,.4,-.05,1.2,.7,-1,-1.5,-.9,-.6,-.1,.4,.5,.5,.5],
[.5,.1,-.3,.5,.5,.4,-.4,-.2,.4,-.05,1.2,.7,-1,-1.5,-.9,-.6,-.1,.4,.5,.5,.5],
[.5,.1,-.3,.5,.5,.4,-.4,-.2,.4,-.05,1.2,.7,-1,-1.5,-.9,-.6,-.1,.4,-.3,.5,.5]];

const panels=[
 {name:'(A)',days:daysAG,cols:panelA},{name:'(B)',days:daysBH,cols:panelB},{name:'(C)',days:daysCI,cols:panelC},
 {name:'(D)',days:daysD,cols:panelD},{name:'(E)',days:daysEF,cols:panelE},{name:'(F)',days:daysEF,cols:panelF},
 {name:'(G)',days:daysAG,cols:panelG},{name:'(H)',days:daysBH,cols:panelH},{name:'(I)',days:daysCI,cols:panelI}];
const panelLeft=[135,1112,2088], panelTop=[15,445,875], panelW=880, panelH_px=366;
const SERIF='"Liberation Serif"', INK='#222';

function buildGrid(p){
  const cols=p.cols.map(c=>{const o=c.slice();while(o.length<depths.length)o.push(o[o.length-1]);return o.slice(0,depths.length);});
  const xs=[p.days[0],...p.days,p.days[p.days.length-1]];
  const ys=[depths[0],...depths,depths[depths.length-1]];
  const g=ys.map((_,j)=>xs.map((_,i)=>(j==0||j==ys.length-1||i==0||i==xs.length-1)?-1000:cols[i-1][j-1]));
  return {xs,ys,g,xa:p.days[0],xb:p.days[p.days.length-1],ya:depths[0],yb:depths[depths.length-1]};
}
function loopsAt(G,L){
  const {xs,ys,g}=G,pts={},adj={};
  const H=(j,i)=>{const k='h'+j+'_'+i;if(!pts[k]){const t=(L-g[j][i])/(g[j][i+1]-g[j][i]);pts[k]={x:xs[i]+t*(xs[i+1]-xs[i]),y:ys[j]};}return k;};
  const V=(j,i)=>{const k='v'+j+'_'+i;if(!pts[k]){const t=(L-g[j][i])/(g[j+1][i]-g[j][i]);pts[k]={x:xs[i],y:ys[j]+t*(ys[j+1]-ys[j])};}return k;};
  const link=(a,b)=>{(adj[a]=adj[a]||[]).push(b);(adj[b]=adj[b]||[]).push(a);};
  for(let j=0;j<ys.length-1;j++)for(let i=0;i<xs.length-1;i++){
    const a=g[j][i],b=g[j][i+1],c=g[j+1][i+1],d=g[j+1][i];
    const code=(a>=L?8:0)|(b>=L?4:0)|(c>=L?2:0)|(d>=L?1:0);
    if(code==0||code==15)continue;
    const T=()=>H(j,i),B=()=>H(j+1,i),Le=()=>V(j,i),R=()=>V(j,i+1);
    const mid=((a>-999?a:L-1)+(b>-999?b:L-1)+(c>-999?c:L-1)+(d>-999?d:L-1))/4>=L;
    switch(code){
      case 1:case 14:link(Le(),B());break;
      case 2:case 13:link(B(),R());break;
      case 3:case 12:link(Le(),R());break;
      case 4:case 11:link(T(),R());break;
      case 6:case 9:link(T(),B());break;
      case 7:case 8:link(T(),Le());break;
      case 5:if(mid){link(T(),Le());link(B(),R());}else{link(T(),R());link(Le(),B());}break;
      case 10:if(mid){link(T(),R());link(Le(),B());}else{link(T(),Le());link(B(),R());}break;
    }
  }
  const seen={},loops=[];
  for(const s in adj){
    if(seen[s])continue;
    const loop=[];let cur=s,prev=null;
    while(cur&&!seen[cur]){seen[cur]=1;loop.push(pts[cur]);const n=adj[cur];const nx=(n[0]!==prev&&!seen[n[0]])?n[0]:(n[1]&&!seen[n[1]]?n[1]:null);prev=cur;cur=nx;}
    if(loop.length>2)loops.push(loop);
  }
  return loops;
}
function onEdge(G,p){const e=1e-6;return p.x<=G.xa+e||p.x>=G.xb-e||p.y>=G.ya-e||p.y<=G.yb+e;}
function smooth(G,loop){
  const o=[];
  for(let i=0;i<loop.length;i++){
    const a=loop[i],b=loop[(i+1)%loop.length],ea=onEdge(G,a),eb=onEdge(G,b);
    if(ea&&eb){o.push(a);continue;}
    o.push(ea?a:{x:.75*a.x+.25*b.x,y:.75*a.y+.25*b.y});
    o.push(eb?b:{x:.25*a.x+.75*b.x,y:.25*a.y+.75*b.y});
  }
  return o;
}
const gap={x:NaN,y:NaN};
function datasetsFor(p){
  const G=buildGrid(p),ds=[];
  ds.push({label:'base',fillShape:bandColors['-8'],data:[{x:G.xa,y:G.ya},{x:G.xb,y:G.ya},{x:G.xb,y:G.yb},{x:G.xa,y:G.yb}],borderWidth:0,pointRadius:0});
  for(const L of levels){
    const loops=loopsAt(G,L).map(l=>smooth(G,smooth(G,l)));
    if(!loops.length)continue;
    const fill=[],line=[];
    for(const l of loops){
      fill.push(...l,gap);
      for(let i=0;i<=l.length;i++){
        const q=l[i%l.length];
        if(i>0&&onEdge(G,q)&&onEdge(G,l[i-1]))line.push(gap);
        line.push(q);
      }
      line.push(gap);
    }
    ds.push({label:'band '+L,fillShape:bandColors[L],data:fill,borderWidth:0,pointRadius:0});
    ds.push({label:'contour '+L,data:line,borderColor:'#0a0a0a',borderWidth:1.7,pointRadius:0,fill:false});
  }
  ds.push({label:'storm',data:[{x:stormDay,y:0},{x:stormDay,y:-200}],borderColor:'#111',borderWidth:2.8,pointRadius:0});
  return ds.reverse();
}
const shapeFill={id:'shapeFill',beforeDatasetDraw(chart,args){
  const d=chart.data.datasets[args.index];if(!d.fillShape)return;
  const c=chart.ctx,a=chart.chartArea;c.save();
  c.beginPath();c.rect(a.left,a.top,a.right-a.left,a.bottom-a.top);c.clip();
  c.fillStyle=d.fillShape;c.beginPath();args.meta.dataset.path(c);c.fill('evenodd');c.restore();
}};
const panelTag={id:'panelTag',afterDatasetsDraw(chart,_,o){
  const c=chart.ctx,a=chart.chartArea;c.save();c.font='47px '+SERIF;c.fillStyle='#000';c.textBaseline='middle';c.textAlign='left';
  c.fillText(o.text,a.left+9,a.top+33);c.restore();
}};
// Settle the plot area on the wanted rectangle inside its canvas.
function settle(chart,left,top,right,bottom){
  for(let k=0;k<4;k++){
    const a=chart.chartArea,pad=chart.options.layout.padding;
    if(Math.abs(a.left-left)+Math.abs(a.top-top)+Math.abs(a.right-right)+Math.abs(a.bottom-bottom)<.5)break;
    chart.options.layout.padding={left:pad.left+left-a.left,top:pad.top+top-a.top,right:pad.right+a.right-right,bottom:pad.bottom+a.bottom-bottom};
    chart.update();
  }
}
panels.forEach((p,n)=>{
  const col=n%3,row=Math.floor(n/3);
  const cv=document.createElement('canvas');
  const W=130+panelW+45,Ht=25+panelH_px+62;
  cv.width=W;cv.height=Ht;cv.style.left=(panelLeft[col]-130)+'px';cv.style.top=(panelTop[row]-25)+'px';cv.style.width=W+'px';cv.style.height=Ht+'px';
  document.body.appendChild(cv);
  const step=row==2?2:1;
  const tickGrid={display:true,drawOnChartArea:false,drawTicks:true,tickColor:INK,tickWidth:4,z:1};
  const frame={display:true,color:INK,width:5,z:1};
  const ch=new Chart(cv,{type:'line',data:{datasets:datasetsFor(p)},plugins:[shapeFill,panelTag],options:{
    responsive:false,animation:false,devicePixelRatio:1,events:[],normalized:false,
    layout:{autoPadding:false,padding:{left:0,top:25,right:45,bottom:0}},
    plugins:{legend:{display:false},tooltip:{enabled:false},title:{display:false},panelTag:{text:p.name}},
    elements:{line:{tension:0},point:{radius:0}},
    scales:{
      x:{type:'linear',position:'bottom',min:0,max:10,grid:{...tickGrid,tickLength:-9},border:frame,
        ticks:{display:row==2,stepSize:step,autoSkip:false,maxRotation:0,padding:26,color:'#000',font:{family:SERIF,size:35},callback:v=>dateTicks[v/2]},
        afterFit:s=>{s.height=62;s.paddingLeft=0;s.paddingRight=0;}},
      x2:{type:'linear',position:'top',min:0,max:10,grid:{...tickGrid,tickLength:-9},border:frame,ticks:{display:false,stepSize:step},afterFit:s=>{s.height=0;s.paddingLeft=0;s.paddingRight=0;}},
      y:{type:'linear',position:'left',min:-200,max:0,grid:{...tickGrid,tickLength:-10},border:frame,
        ticks:{stepSize:50,padding:24,autoSkip:false,color:'#000',font:{family:SERIF,size:35},callback:v=>depthTicks.includes(v)?String(v):''},
        afterFit:s=>{s.width=130;s.paddingTop=0;s.paddingBottom=0;}},
      y2:{type:'linear',position:'right',min:-200,max:0,grid:{...tickGrid,tickLength:-10},border:frame,ticks:{display:false,stepSize:50},afterFit:s=>{s.width=0;s.paddingTop=0;s.paddingBottom=0;}}
    }}});
  settle(ch,130,25,130+panelW,25+panelH_px);
});
// colour bar
const hex=h=>[1,3,5].map(i=>parseInt(h.substr(i,2),16));
function barColor(v){const f=Math.min(15.999,Math.max(0,v+8)),i=Math.floor(f),t=f-i,a=hex(cbarStops[i]),b=hex(cbarStops[i+1]);return 'rgb('+a.map((q,k)=>Math.round(q+t*(b[k]-q))).join(',')+')';}
const barEdges=[];for(let v=-8;v<8;v+=.25)barEdges.push(v);
const cb=document.createElement('canvas');cb.width=81;cb.height=1190;cb.style.cssText='left:2990px;top:20px;width:81px;height:1190px';document.body.appendChild(cb);
const cbFrame={id:'cbFrame',afterDatasetsDraw(chart){const c=chart.ctx,a=chart.chartArea;c.save();c.strokeStyle='#333';c.lineWidth=1.5;c.strokeRect(a.left,a.top,a.right-a.left,a.bottom-a.top);c.restore();}};
const cbChart=new Chart(cb,{type:'bar',data:{labels:['°C'],datasets:barEdges.map(v=>({data:[[v,v+.26]],backgroundColor:barColor(v+.125),borderWidth:0,barPercentage:1,categoryPercentage:1,grouped:false}))},plugins:[cbFrame],options:{
  responsive:false,animation:false,devicePixelRatio:1,events:[],
  layout:{autoPadding:false,padding:{left:13,right:0,top:21,bottom:23}},
  plugins:{legend:{display:false},tooltip:{enabled:false}},
  scales:{x:{grid:{display:false},border:{display:false},ticks:{display:false},afterFit:s=>{s.height=0;s.paddingLeft=0;s.paddingRight=0;}},
    y:{type:'linear',position:'right',min:-8,max:8,border:{display:false},grid:{drawOnChartArea:false,tickLength:-12,tickColor:'#333',tickWidth:1.5,z:1},
      ticks:{stepSize:2,padding:18,crossAlign:'far',color:'#000',font:{family:SERIF,size:29}},afterFit:s=>{s.width=34;s.paddingTop=0;s.paddingBottom=0;}}}}});
settle(cbChart,13,21,47,1167);
</script></body></html>
